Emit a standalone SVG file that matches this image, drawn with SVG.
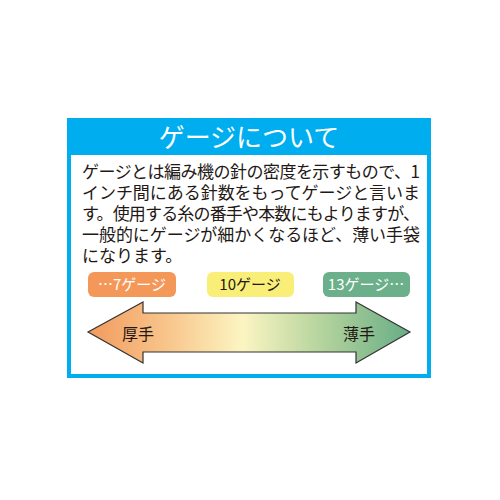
<svg xmlns="http://www.w3.org/2000/svg" width="500" height="500" viewBox="0 0 500 500">
<defs>
<style>
.jp{font-family:"Noto Sans CJK JP","Noto Sans",sans-serif;}
.body{font-size:17px;fill:#231815;}
.pill{font-size:15px;}
</style>
<linearGradient id="g" x1="88" y1="0" x2="410" y2="0" gradientUnits="userSpaceOnUse">
<stop offset="0" stop-color="#F29A5E"/>
<stop offset="0.25" stop-color="#F8C68C"/>
<stop offset="0.48" stop-color="#FCF5C2"/>
<stop offset="0.72" stop-color="#B6D49E"/>
<stop offset="1" stop-color="#68AD85"/>
</linearGradient>
</defs>
<rect width="500" height="500" fill="#fff"/>
<g id="panel">
<rect x="69" y="120" width="360" height="256" fill="#fff" stroke="#00AEEF" stroke-width="4"/>
<rect x="67" y="118" width="364" height="37" fill="#00AEEF"/>
<text class="jp" x="249" y="147" font-size="26" fill="#fff" text-anchor="middle">ゲージについて</text>
</g>
<g id="body" class="jp body">
<text x="82" y="178" textLength="338" lengthAdjust="spacing">ゲージとは編み機の針の密度を示すもので、1</text>
<text x="82" y="199" textLength="338" lengthAdjust="spacing">インチ間にある針数をもってゲージと言いま</text>
<text x="82" y="220" textLength="338" lengthAdjust="spacing">す。使用する糸の番手や本数にもよりますが、</text>
<text x="82" y="241" textLength="338" lengthAdjust="spacing">一般的にゲージが細かくなるほど、薄い手袋</text>
<text x="82" y="262">になります。</text>
</g>
<g id="pill7">
<rect x="88" y="272" width="88" height="25" rx="6" fill="#F4985A"/>
<text class="jp pill" x="132" y="290" fill="#fff" text-anchor="middle">…7ゲージ</text>
</g>
<g id="pill10">
<rect x="207" y="272" width="87" height="25" rx="6" fill="#F9EE78"/>
<text class="jp pill" x="250" y="290" fill="#231815" text-anchor="middle">10ゲージ</text>
</g>
<g id="pill13">
<rect x="323" y="272" width="87" height="25" rx="6" fill="#6BAF8B"/>
<text class="jp pill" x="366" y="290" fill="#fff" text-anchor="middle">13ゲージ…</text>
</g>
<g id="arrow">
<path d="M88,332 L143,302 L143,313 L356,313 L356,302 L410,332 L356,363 L356,352 L143,352 L143,363 Z" fill="url(#g)" stroke="#333" stroke-width="1.2" stroke-linejoin="miter"/>
<text class="jp" x="122" y="340" font-size="16" fill="#231815">厚手</text>
<text class="jp" x="343" y="340" font-size="16" fill="#231815">薄手</text>
</g>
</svg>
